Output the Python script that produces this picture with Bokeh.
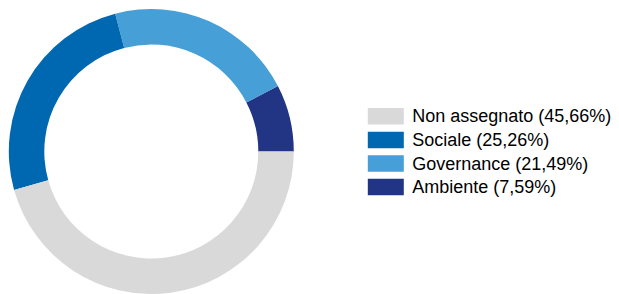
import math
from bokeh.plotting import figure
from bokeh.models import Range1d, ColumnDataSource
from bokeh.core.properties import value
from bokeh.embed import file_html
from bokeh.resources import INLINE

# Data (legend order)
categories = ["Non assegnato", "Sociale", "Governance", "Ambiente"]
shares = [45.66, 25.26, 21.49, 7.59]
colors = ["#D9D9D9", "#0068B1", "#469FD7", "#213584"]

W, H = 619, 294
p = figure(width=W, height=H, output_backend="svg", toolbar_location=None,
           x_range=Range1d(0, W), y_range=Range1d(0, H), min_border=0)
p.axis.visible = False
p.grid.visible = False
p.outline_line_color = None
p.background_fill_color = "white"
p.border_fill_color = "white"

# Wedges drawn counter-clockwise from 3 o'clock: Ambiente, Governance, Sociale, Non assegnato
total = sum(shares)
order = list(reversed(range(len(categories))))
starts, ends, cols = [], [], []
acc = 0.0
for i in order:
    a0 = acc / total * 2 * math.pi
    acc += shares[i]
    a1 = acc / total * 2 * math.pi
    starts.append(a0)
    ends.append(a1)
    cols.append(colors[i])

cx, cy = 150.8, H - 151.0
src = ColumnDataSource(dict(x=[cx] * len(starts), y=[cy] * len(starts),
                            start=starts, end=ends, color=cols))
p.annular_wedge(x="x", y="y", inner_radius=107, outer_radius=142.5,
                start_angle="start", end_angle="end", fill_color="color",
                line_color=None, source=src)

# Legend
row0 = H - 115.8
step = 23.6
ys = [row0 - i * step for i in range(len(categories))]
labels = [f"{c} ({s:.2f}%)".replace(".", ",") for c, s in zip(categories, shares)]
lsrc = ColumnDataSource(dict(x=[385.3] * len(categories), y=ys, color=colors,
                             tx=[411.7] * len(categories), label=labels))
p.rect(x="x", y="y", width=36, height=16.5, fill_color="color", line_color=None, source=lsrc)
p.text(x="tx", y="y", text="label", text_font=value("Liberation Sans"),
       text_font_size="18px", text_baseline="middle", text_align="left",
       text_color="#000000", source=lsrc)

open("out.html", "w").write(file_html(p, INLINE))
